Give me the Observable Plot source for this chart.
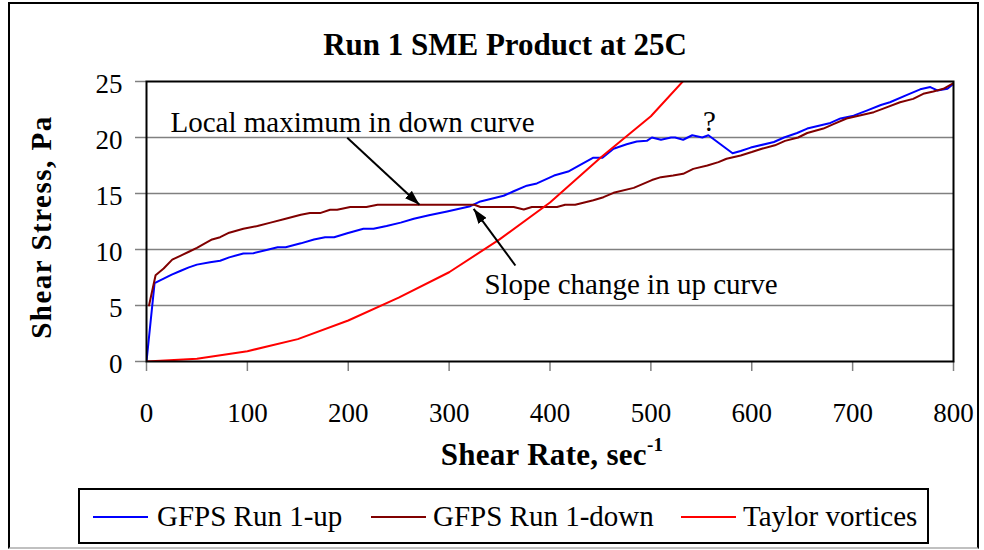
<!DOCTYPE html>
<html>
<head>
<meta charset="utf-8">
<script src="https://cdn.jsdelivr.net/npm/d3@7"></script>
<script src="https://cdn.jsdelivr.net/npm/@observablehq/plot@0.6"></script>
<style>
  html, body { margin: 0; padding: 0; background: #fff; }
  #chart { position: relative; width: 984px; height: 550px; overflow: hidden; font-family: 'Liberation Serif', 'Times New Roman', serif; color: #000; }
  #border { position: absolute; left: 8px; top: 2px; width: 971px; height: 547px; box-sizing: border-box; border: 2px solid #000; border-bottom-color: #c0c0c0; }
  #plot { position: absolute; left: 0; top: 0; }
  #title { position: absolute; left: 505px; top: 29px; transform: translateX(-50%); font-size: 31px; font-weight: bold; line-height: 1; white-space: nowrap; }
  #xtitle { position: absolute; left: 552px; top: 439px; transform: translateX(-50%); font-size: 31px; font-weight: bold; line-height: 1; white-space: nowrap; letter-spacing: 0.3px; }
  #xtitle sup { font-size: 19px; vertical-align: 0; position: relative; top: -14px; }
  #ytitle { position: absolute; left: 41px; top: 227px; transform: translate(-50%, -50%) rotate(-90deg); font-size: 29px; font-weight: bold; line-height: 1; white-space: nowrap; letter-spacing: 1.5px; }
  #legend { position: absolute; left: 78px; top: 488px; width: 851px; height: 56px; box-sizing: border-box; border: 2px solid #000; }
  .lg-line { position: absolute; height: 2px; width: 55px; top: 516px; }
  .lg-text { position: absolute; top: 502px; font-size: 29px; line-height: 1; white-space: nowrap; }
</style>
</head>
<body>
<div id="chart">
  <div id="border"></div>
  <div id="plot"></div>
  <div id="title"></div>
  <div id="ytitle"></div>
  <div id="xtitle"></div>
  <div id="legend"></div>
</div>
<script>
// ---------- data ----------
const titleText = "Run 1 SME Product at 25C";
const yTitleText = "Shear Stress, Pa";
const xTitleText = "Shear Rate, sec";
const xTitleSup = "-1";

const seriesNames = ["GFPS Run 1-up", "GFPS Run 1-down", "Taylor vortices"];
const seriesColors = ["#0000ff", "#800000", "#ff0000"];

const xTicks = [0, 100, 200, 300, 400, 500, 600, 700, 800];
const yTicks = [0, 5, 10, 15, 20, 25];

// GFPS Run 1-up
const upX = [0, 8, 17, 25, 34, 42, 50, 63, 73, 82, 96, 106, 120, 130, 138, 153, 166, 177, 186, 199, 215, 225, 238, 252, 265, 280, 298, 321, 331, 354, 364, 377, 387, 404, 418, 430, 443, 452, 463, 476, 486, 496, 501, 510, 520, 524, 532, 541, 551, 557, 581, 589, 599, 622, 632, 645, 655, 678, 688, 701, 714, 728, 737, 754, 767, 777, 784, 794, 800];
const upY = [0, 7.0, 7.4, 7.75, 8.1, 8.4, 8.65, 8.87, 9.0, 9.3, 9.65, 9.67, 9.97, 10.2, 10.2, 10.55, 10.9, 11.1, 11.1, 11.45, 11.85, 11.85, 12.1, 12.4, 12.74, 13.05, 13.4, 13.87, 14.29, 14.8, 15.2, 15.7, 15.9, 16.6, 16.96, 17.56, 18.2, 18.2, 19.0, 19.4, 19.65, 19.7, 20.0, 19.8, 20.0, 20.0, 19.8, 20.2, 20.0, 20.2, 18.6, 18.8, 19.1, 19.6, 20.0, 20.4, 20.8, 21.3, 21.7, 21.95, 22.4, 22.9, 23.15, 23.8, 24.3, 24.5, 24.2, 24.35, 24.8];

// GFPS Run 1-down
const downX = [2.5, 9, 17, 25.5, 34, 42, 50, 57, 65, 73, 82, 96, 110, 123, 136, 153, 162, 172, 182, 189, 202, 218, 229, 325, 331, 364, 374, 382, 407, 415, 425, 443, 453, 463, 483, 501, 510, 522, 532, 542, 556, 567, 575, 589, 600, 610, 623, 633, 646, 655, 671, 681, 694, 707, 721, 731, 747, 760, 770, 780, 790, 800];
const downY = [5.0, 7.7, 8.3, 9.1, 9.46, 9.8, 10.15, 10.5, 10.9, 11.1, 11.5, 11.85, 12.1, 12.4, 12.7, 13.1, 13.25, 13.25, 13.55, 13.55, 13.8, 13.8, 14.0, 14.0, 13.8, 13.8, 13.57, 13.8, 13.8, 14.0, 14.0, 14.4, 14.67, 15.06, 15.5, 16.2, 16.46, 16.6, 16.76, 17.2, 17.5, 17.8, 18.1, 18.4, 18.7, 19.0, 19.3, 19.7, 20.0, 20.4, 20.8, 21.2, 21.7, 21.96, 22.26, 22.6, 23.15, 23.45, 23.9, 24.1, 24.35, 24.85];

// Taylor vortices
const taylorX = [0, 50, 100, 150, 200, 250, 300, 350, 400, 450, 500, 550];
const taylorY = [0, 0.24, 0.92, 2.0, 3.66, 5.7, 7.97, 10.9, 14.2, 18.2, 21.9, 26.8];

// annotations
const noteTexts = ["Local maximum in down curve", "Slope change in up curve", "?"];
const noteX = [23.8, 335, 558];
const noteY = [20.45, 6.07, 20.6];
const noteAnchor = ["start", "start", "middle"];
const arrowFromX = [199, 365.7];
const arrowFromY = [19.97, 8.57];
const arrowToX = [270.6, 324.3];
const arrowToY = [14.0, 13.63];

// ---------- build ----------
const toRows = (xs, ys) => xs.map((x, i) => ({x, y: ys[i]}));
const series = [toRows(upX, upY), toRows(downX, downY), toRows(taylorX, taylorY)];
const notes = noteTexts.map((t, i) => ({text: t, x: noteX[i], y: noteY[i], anchor: noteAnchor[i]}));
const arrows = arrowFromX.map((x1, i) => ({x1, y1: arrowFromY[i], x2: arrowToX[i], y2: arrowToY[i]}));

const plot = Plot.plot({
  width: 984,
  height: 480,
  marginLeft: 146,
  marginRight: 31,
  marginTop: 81,
  marginBottom: 119,
  x: {domain: [0, 800]},
  y: {domain: [0, 25]},
  style: {fontFamily: "'Liberation Serif', 'Times New Roman', serif", fontSize: "27px", background: "transparent", overflow: "visible"},
  marks: [
    Plot.gridY(yTicks.filter(t => t > 0 && t < 25), {stroke: "#808080", strokeOpacity: 1, strokeWidth: 1.5}),
    Plot.axisY({ticks: yTicks, tickSize: 11, stroke: "#808080", strokeWidth: 1.5, fill: "none", label: null}),
    Plot.axisY({ticks: yTicks, tickSize: 0, tickPadding: 24, dy: 3, label: null}),
    Plot.axisX({ticks: xTicks, tickSize: 10, tickPadding: 31, stroke: "#808080", strokeWidth: 1.5, label: null}),
    ...series.map((rows, i) => Plot.line(rows, {x: "x", y: "y", stroke: seriesColors[i], strokeWidth: 2, clip: true})),
    Plot.frame({stroke: "#000", strokeWidth: 2}),
    Plot.link(arrows, {x1: "x1", y1: "y1", x2: "x2", y2: "y2", stroke: "#000", strokeWidth: 2}),
    ...notes.map(n => Plot.text([n], {x: "x", y: "y", text: "text", textAnchor: n.anchor, lineAnchor: "bottom", fontSize: 29, fill: "#000"}))
  ]
});

// filled arrowheads
const svg = d3.select(plot);
const marker = svg.append("defs").append("marker")
  .attr("id", "ah").attr("viewBox", "0 0 15 10").attr("refX", 15).attr("refY", 5)
  .attr("markerWidth", 15).attr("markerHeight", 10).attr("markerUnits", "userSpaceOnUse").attr("orient", "auto");
marker.append("path").attr("d", "M0,0L15,5L0,10Z").attr("fill", "#000");
svg.selectAll('g[aria-label="link"] path').attr("marker-end", "url(#ah)");

document.getElementById("plot").appendChild(plot);

document.getElementById("title").textContent = titleText;
document.getElementById("ytitle").textContent = yTitleText;
const xt = document.getElementById("xtitle");
xt.textContent = xTitleText;
const sup = document.createElement("sup");
sup.textContent = xTitleSup;
xt.appendChild(sup);

// legend
const chart = document.getElementById("chart");
const lineLeft = [93, 371, 681];
const textLeft = [157, 433, 743];
seriesNames.forEach((name, i) => {
  const ln = document.createElement("div");
  ln.className = "lg-line";
  ln.style.left = lineLeft[i] + "px";
  ln.style.background = seriesColors[i];
  chart.appendChild(ln);
  const tx = document.createElement("div");
  tx.className = "lg-text";
  tx.style.left = textLeft[i] + "px";
  tx.textContent = name;
  chart.appendChild(tx);
});
</script>
</body>
</html>
